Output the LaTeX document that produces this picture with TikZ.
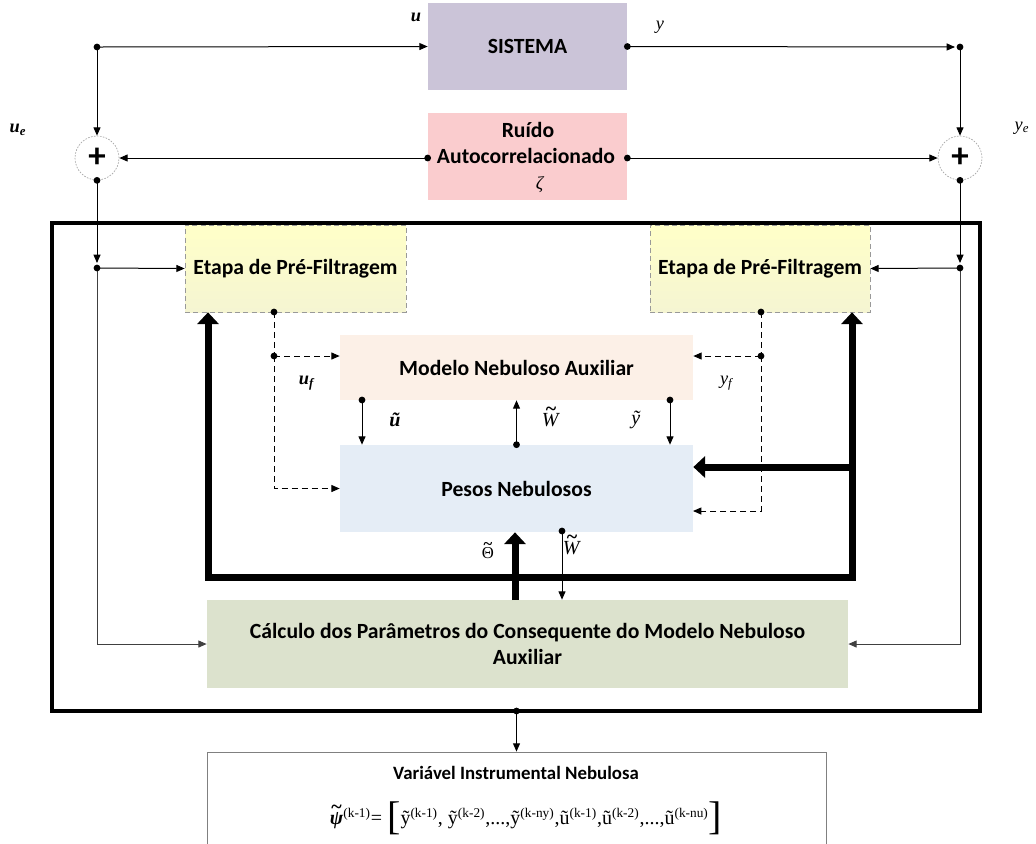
\documentclass[tikz,border=0pt]{standalone}
\usepackage{fontspec}
\setmainfont{Liberation Serif}
\newfontfamily\boxfont{Carlito}
\usetikzlibrary{arrows.meta}

% tilde placed over a symbol (optional argument: how high the tilde sits)
\newcommand\tld[2][0.45em]{{\ooalign{#2\cr\hidewidth\raisebox{#1}{\textbf{\textasciitilde}}\hidewidth\cr}}}

\definecolor{sisfill}{RGB}{203,196,216}
\definecolor{ruifill}{RGB}{250,204,206}
\definecolor{pftop}{RGB}{255,255,200}
\definecolor{pfbot}{RGB}{245,245,210}
\definecolor{modfill}{RGB}{252,240,231}
\definecolor{pesfill}{RGB}{229,237,246}
\definecolor{calfill}{RGB}{220,226,205}

\begin{document}
\begin{tikzpicture}[x=0.6pt,y=-0.6pt,
  blk/.style={inner sep=0pt, align=center, font=\boxfont\bfseries\fontsize{13}{16}\selectfont},
  pfbox/.style={blk, draw=gray!80, densely dashed, line width=0.4pt, top color=pftop, bottom color=pfbot},
  sumnode/.style={circle, draw=gray!70, dash pattern=on 1pt off 0.8pt, line width=0.4pt,
    minimum size=26.4pt, inner sep=0pt, font=\boxfont\bfseries\fontsize{21}{21}\selectfont},
  lab/.style={inner sep=0pt, font=\fontsize{11}{13}\selectfont},
  wire/.style={line width=0.6pt},
  arr/.style={wire, -{Triangle[length=5pt,width=4.2pt]}},
  darr/.style={arr, dash pattern=on 3.6pt off 2.4pt},
  dwire/.style={wire, dash pattern=on 3.6pt off 2.4pt},
  thk/.style={line width=4.2pt, {Triangle[length=7pt,width=12.6pt]}-{Triangle[length=7pt,width=12.6pt]}},
  tharr/.style={line width=4.2pt, -{Triangle[length=7pt,width=12.6pt]}},
  dotr/.style={radius=3.4}
]
\useasboundingbox (0,0) rectangle (1036,843);

% outer frame
\draw[line width=2.4pt] (52,223) rectangle (980,711);

% blocks
\node[blk, fill=sisfill, minimum width=199*0.6pt, minimum height=87*0.6pt] (sis) at (527.5,46.5) {SISTEMA};
\node[blk, fill=ruifill, minimum width=199*0.6pt, minimum height=87*0.6pt] (rui) at (527.5,156.5) {};
\node[blk] at (528,130) {Ruído};
\node[blk] at (526,156) {Autocorrelacionado};
\node[lab] at (540,185) {\textit{ζ}};

\node[pfbox, minimum width=221*0.6pt, minimum height=87*0.6pt] (pfL) at (295.5,268.5) {Etapa de Pré-Filtragem};
\node[pfbox, minimum width=220*0.6pt, minimum height=87*0.6pt] (pfR) at (760,268.5) {Etapa de Pré-Filtragem};
\node[blk, fill=modfill, minimum width=353*0.6pt, minimum height=65*0.6pt] (mod) at (516.5,367.5) {Modelo Nebuloso Auxiliar};
\node[blk, fill=pesfill, minimum width=353*0.6pt, minimum height=87*0.6pt] (pes) at (516.5,488.5) {Pesos Nebulosos};
\node[blk, fill=calfill, minimum width=641*0.6pt, minimum height=88*0.6pt] (cal) at (527.5,644)
  {Cálculo dos Parâmetros do Consequente do Modelo Nebuloso\\Auxiliar};
\node[draw=gray, line width=0.5pt, minimum width=619*0.6pt, minimum height=95*0.6pt, inner sep=0pt] (var) at (516.5,799.5) {};
\node[blk, font=\boxfont\bfseries\fontsize{11.3}{13}\selectfont] at (516,773) {Variável Instrumental Nebulosa};
\node[inner sep=0pt, font=\fontsize{12}{14}\selectfont] (form) at (526,818)
  {\tld[0.55em]{\textbf{\textit{ψ}}}\textsuperscript{(k-1)}= \raisebox{-0.22em}{\fontsize{24}{24}\selectfont[}ỹ\textsuperscript{(k-1)}, ỹ\textsuperscript{(k-2)},...,ỹ\textsuperscript{(k-ny)},ũ\textsuperscript{(k-1)},ũ\textsuperscript{(k-2)},...,ũ\textsuperscript{(k-nu)}\raisebox{-0.22em}{\fontsize{24}{24}\selectfont]}};

% summing junctions
\node[sumnode] (sumL) at (97,158) {+};
\node[sumnode] (sumR) at (960,158) {+};

% branch points
\coordinate (uL) at (97,47);
\coordinate (yR) at (960,47);
\coordinate (jL) at (97,268);
\coordinate (jR) at (960,268);
\coordinate (pfLo) at (274,312);
\coordinate (dL) at (274,356);
\coordinate (pfRo) at (761,312);
\coordinate (dR) at (761,356);
\coordinate (dR2) at (693,511);
\coordinate (mu) at (362,400);
\coordinate (my) at (670,400);
\coordinate (th) at (515,600);
\coordinate (wb) at (562,531);
\coordinate (lb) at (208,577);
\coordinate (rb) at (852,577);
\coordinate (rm) at (852,467);
\coordinate (out) at (516.5,711);

% plant input / output
\draw[arr] (uL) -- (sis.west);
\draw[arr] (uL) -- (sumL.north);
\draw[arr, shorten >=3pt] (sis.east) -- (yR);
\draw[arr] (yR) -- (sumR.north);
\draw[arr] (rui.west |- sumL) -- (sumL.east);
\draw[arr] (rui.east |- sumR) -- (sumR.west);

% measured signals to the filters and to the estimator
\draw[arr, shorten >=3pt] (sumL.south) -- (jL);
\draw[arr] (jL) -- (pfL.west);
\draw[arr, draw=black!75] (jL) |- (cal.west);
\draw[arr, shorten >=3pt] (sumR.south) -- (jR);
\draw[arr] (jR) -- (pfR.east);
\draw[arr, draw=black!75] (jR) |- (cal.east);

% filtered signals
\draw[dwire] (pfLo) -- (dL);
\draw[darr] (dL) -- (dL -| mod.west);
\draw[darr] (dL) |- (pes.west);
\draw[dwire] (pfRo) -- (dR);
\draw[darr] (dR) -- (dR -| mod.east);
\draw[darr] (dR) |- (dR2);

% exchanges between the auxiliary model and the weights
\draw[arr] (mu) -- (mu |- pes.north);
\draw[arr] (pes.north) -- (mod.south);
\draw[arr] (my) -- (my |- pes.north);

% parameter feedback
\draw[thk] (lb |- pfL.south) -- (lb) -- (rb) -- (rb |- pfR.south);
\draw[tharr] (rm) -- (rm -| pes.east);
\draw[tharr] (th) -- (th |- pes.south);
\draw[arr] (wb) -- (wb |- cal.north);
\draw[arr] (out) -- (var.north);

% junction dots
\foreach \p in {uL,yR,jL,jR,pfLo,dL,pfRo,dR,mu,my,wb,out,sis.east,sumL.south,sumR.south,pes.north}
  \fill (\p) circle[dotr];
\fill (rui.west |- sumL) circle[dotr];
\fill (rui.east |- sumR) circle[dotr];

% signal labels
\node[lab] at (416,17) {\textbf{\textit{u}}};
\node[lab] at (660,27) {\textit{y}};
\node[lab] at (18,130) {\textbf{\textit{u}}\textsubscript{\textbf{\textit{e}}}};
\node[lab] at (1022,128) {\textit{y}\textsubscript{\textit{e}}};
\node[lab] at (307,383) {\textbf{\textit{u}}\textsubscript{\textbf{\textit{f}}}};
\node[lab] at (727,383) {\textit{y}\textsubscript{\textit{f}}};
\node[lab, font=\fontsize{12}{14}\selectfont] at (395,420) {\textbf{\textit{ũ}}};
\node[lab, font=\fontsize{12}{14}\selectfont] at (551,420) {\tld[0.55em]{\textit{W}}};
\node[lab, font=\fontsize{12}{14}\selectfont] at (636,420) {\textit{ỹ}};
\node[lab, font=\fontsize{10}{12}\selectfont] at (488,553) {\tld[0.55em]{Θ}};
\node[lab, font=\fontsize{12}{14}\selectfont] at (572,548) {\tld[0.55em]{\textit{W}}};
\end{tikzpicture}
\end{document}
